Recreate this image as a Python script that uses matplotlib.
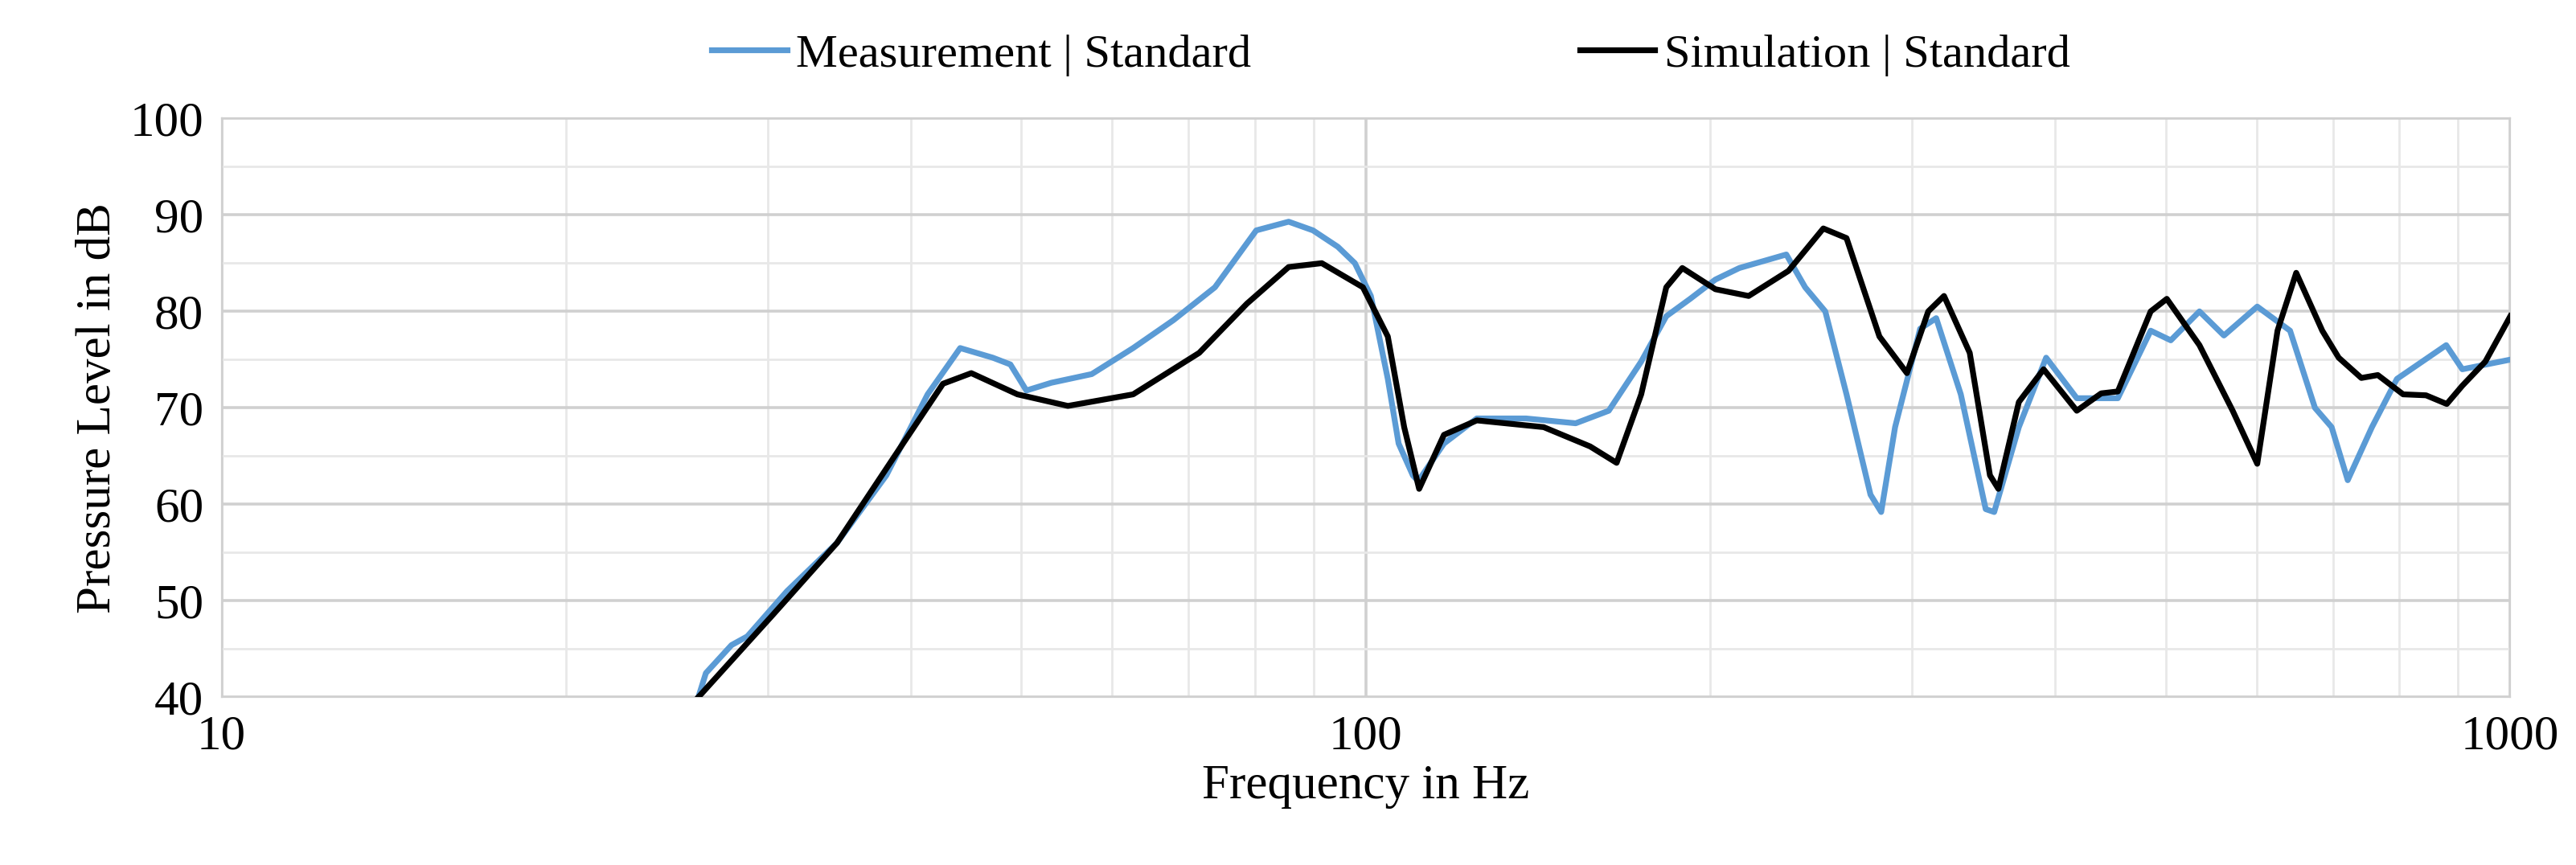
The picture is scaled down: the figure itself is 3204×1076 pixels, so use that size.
import matplotlib
matplotlib.use("Agg")
import matplotlib.pyplot as plt
from matplotlib.ticker import FixedLocator, NullFormatter

meas_f = [26.1, 26.5, 27.9, 28.8, 31.2, 34.5, 38.1, 41.4, 44.2, 47.2, 48.9, 50.5, 53.1, 57.6, 62.6, 67.9,
          73.8, 80.2, 85.6, 89.9, 94.5, 97.8, 101, 104.5, 106.8, 109.9, 111.1, 117, 125, 138, 152.5, 163,
          174, 183, 192, 202, 212, 233, 242, 252, 263, 276, 282, 290, 305, 315, 331, 348, 354, 372, 393,
          418, 454, 485, 505, 535, 562, 601, 642, 675, 698, 721, 757, 796, 879, 908, 1000]
meas_db = [40, 42.5, 45.4, 46.3, 51, 56, 63, 71.4, 76.2, 75.2, 74.5, 71.8, 72.6, 73.5, 76.2, 79.1,
           82.5, 88.4, 89.3, 88.4, 86.7, 85, 81.6, 73, 66.3, 63, 62.4, 66.3, 68.9, 68.9, 68.4, 69.7,
           74.8, 79.5, 81.3, 83.3, 84.5, 85.9, 82.5, 80, 71.4, 61, 59.2, 68, 78.2, 79.3, 71.4, 59.5, 59.2, 68, 75.2,
           71, 71, 78, 77, 80, 77.5, 80.5, 78, 70, 68, 62.5, 68, 73, 76.5, 74, 75]

sim_f = [26.1, 30.3, 34.5, 39.4, 42.7, 45.2, 49.6, 54.9, 62.6, 71.5, 78.7, 85.6, 91.5, 99.4, 104.5, 108,
         111.3, 117, 125, 143, 157, 165.6, 174, 183, 189, 202, 216, 234, 251, 263, 281, 297, 310, 320,
         337, 351, 357, 372, 391, 418, 439, 454, 485, 501, 535, 572, 601, 626, 650, 685, 708, 741, 766,
         806, 844, 880, 908, 951, 1000]
sim_db = [40, 48.5, 56, 66.3, 72.5, 73.6, 71.4, 70.2, 71.4, 75.7, 80.8, 84.6, 85, 82.5, 77.4, 68,
          61.6, 67.2, 68.7, 68, 66, 64.3, 71.4, 82.5, 84.5, 82.3, 81.6, 84.2, 88.6, 87.6, 77.4, 73.6, 80, 81.6,
          75.7, 63, 61.6, 70.6, 74, 69.7, 71.5, 71.7, 80, 81.3, 76.5, 69.7, 64.2, 78, 84, 78, 75.2, 73.1, 73.4,
          71.4, 71.3, 70.4, 72.3, 74.8, 79.5]

plt.rcParams['font.family'] = ['Liberation Serif', 'DejaVu Serif']
fig = plt.figure(figsize=(16.02, 5.38), dpi=200)
ax = fig.add_axes([0.086, 0.194, 0.8885, 0.669])
ax.plot(meas_f, meas_db, color='#5B9BD5', lw=2.6, label='Measurement | Standard', zorder=3)
ax.plot(sim_f, sim_db, color='black', lw=2.6, label='Simulation | Standard', zorder=3)
ax.set_xscale('log')
ax.set_xlim(10, 1000)
ax.set_ylim(40, 100)
ax.set_yticks(range(40, 101, 10))
ax.set_yticks(range(45, 100, 10), minor=True)
ax.set_xticks([10, 100, 1000])
ax.set_xticklabels(['10', '100', '1000'])
ax.xaxis.set_minor_locator(FixedLocator([m * d for d in (10, 100) for m in range(2, 10)]))
ax.xaxis.set_minor_formatter(NullFormatter())
ax.grid(True, which='major', color='#D0D0D0', lw=1.3)
ax.grid(True, which='minor', color='#E8E8E8', lw=1.0)
ax.set_axisbelow(True)
for s in ax.spines.values():
    s.set_color('#D0D0D0')
ax.tick_params(which='both', length=0, labelsize=22, pad=8)
ax.set_xlabel('Frequency in Hz', fontsize=22, labelpad=2)
ax.set_ylabel('Pressure Level in dB', fontsize=22)
fig.legend(loc='upper center', bbox_to_anchor=(0.54, 1.01), ncol=2, frameon=False, fontsize=21,
           handlelength=1.6, handletextpad=0.2, columnspacing=7)
fig.savefig('out.png', dpi=200)
